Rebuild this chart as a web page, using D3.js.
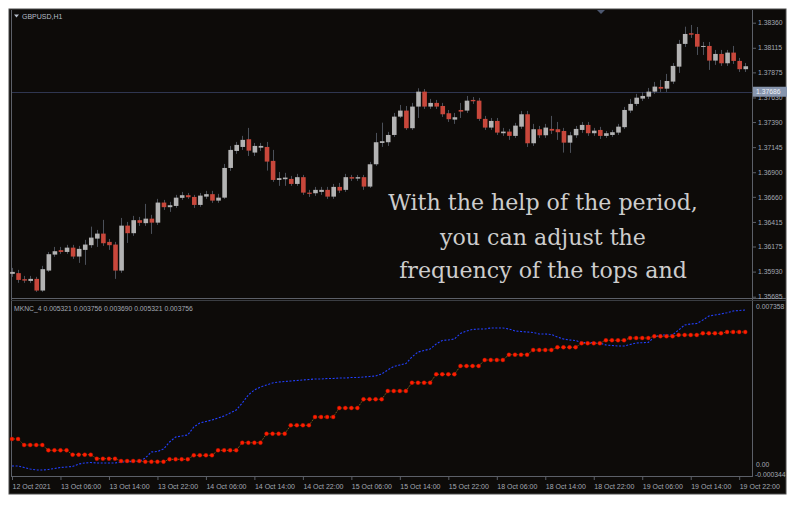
<!DOCTYPE html>
<html><head><meta charset="utf-8">
<script src="https://cdn.jsdelivr.net/npm/d3@7"></script>
<style>html,body{margin:0;padding:0;background:#fff;}svg{display:block;}</style>
</head><body>
<svg id="c" width="802" height="506"></svg>
<script>
// ---------- DATA ----------
const symbolTitle = "GBPUSD,H1";
const indicatorTitle = "MKNC_4 0.005321 0.003756 0.003690 0.005321 0.003756";
const bidPrice = 1.37686;

const open = [1.35908,1.35915,1.35856,1.35839,1.35859,1.35745,1.35940,1.36096,1.36139,1.36122,
1.36164,1.36077,1.36142,1.36188,1.36252,1.36301,1.36220,1.36194,1.35940,1.36379,
1.36305,1.36432,1.36403,1.36447,1.36408,1.36604,1.36559,1.36571,1.36650,1.36676,
1.36659,1.36581,1.36662,1.36686,1.36623,1.36652,1.36942,1.37108,1.37147,1.37222,
1.37092,1.37140,1.37147,1.37011,1.36825,1.36832,1.36835,1.36786,1.36852,1.36701,
1.36695,1.36708,1.36728,1.36662,1.36757,1.36728,1.36852,1.36838,1.36852,1.36760,
1.36978,1.37186,1.37193,1.37264,1.37443,1.37502,1.37330,1.37541,1.37687,1.37541,
1.37577,1.37547,1.37476,1.37414,1.37508,1.37502,1.37606,1.37599,1.37421,1.37336,
1.37401,1.37281,1.37297,1.37255,1.37345,1.37466,1.37183,1.37320,1.37261,1.37323,
1.37320,1.37303,1.37189,1.37261,1.37313,1.37362,1.37281,1.37313,1.37255,1.37264,
1.37287,1.37340,1.37502,1.37567,1.37619,1.37638,1.37687,1.37733,1.37716,1.37785,
1.37931,1.38153,1.38257,1.38250,1.38126,1.38133,1.37990,1.38055,1.37964,1.38068,
1.37987,1.37906];
const high = [1.35966,1.35947,1.35888,1.35888,1.35879,1.35986,1.36122,1.36171,1.36171,1.36191,
1.36191,1.36181,1.36240,1.36369,1.36337,1.36435,1.36249,1.36220,1.36454,1.36415,
1.36474,1.36464,1.36591,1.36484,1.36640,1.36630,1.36611,1.36679,1.36708,1.36698,
1.36679,1.36698,1.36718,1.36718,1.36689,1.36981,1.37157,1.37196,1.37255,1.37333,
1.37186,1.37186,1.37196,1.37118,1.36903,1.36894,1.36864,1.36884,1.36874,1.36728,
1.36757,1.36757,1.36757,1.36786,1.36796,1.36884,1.36874,1.36874,1.36874,1.37001,
1.37284,1.37384,1.37294,1.37479,1.37557,1.37547,1.37577,1.37720,1.37713,1.37616,
1.37606,1.37577,1.37508,1.37479,1.37577,1.37645,1.37635,1.37626,1.37450,1.37430,
1.37430,1.37333,1.37323,1.37382,1.37499,1.37499,1.37372,1.37352,1.37372,1.37450,
1.37391,1.37333,1.37294,1.37352,1.37391,1.37391,1.37333,1.37343,1.37303,1.37313,
1.37372,1.37538,1.37616,1.37665,1.37684,1.37723,1.37782,1.37801,1.37860,1.37967,
1.38192,1.38321,1.38338,1.38318,1.38172,1.38172,1.38094,1.38094,1.38094,1.38133,
1.38016,1.37967];
const low = [1.35879,1.35820,1.35820,1.35820,1.35732,1.35732,1.35927,1.36074,1.36103,1.36103,
1.36054,1.36015,1.35996,1.36162,1.36171,1.36181,1.36142,1.35859,1.35918,1.36210,
1.36279,1.36376,1.36376,1.36298,1.36386,1.36532,1.36513,1.36552,1.36630,1.36640,
1.36552,1.36562,1.36640,1.36601,1.36601,1.36640,1.36913,1.37079,1.37118,1.37059,
1.37059,1.37108,1.36916,1.36806,1.36767,1.36767,1.36767,1.36767,1.36679,1.36659,
1.36669,1.36679,1.36640,1.36640,1.36698,1.36708,1.36815,1.36815,1.36728,1.36747,
1.36962,1.37147,1.37157,1.37245,1.37430,1.37313,1.37313,1.37430,1.37518,1.37518,
1.37518,1.37440,1.37391,1.37372,1.37430,1.37479,1.37567,1.37401,1.37313,1.37313,
1.37264,1.37255,1.37216,1.37235,1.37323,1.37147,1.37157,1.37235,1.37235,1.37274,
1.37216,1.37092,1.37089,1.37235,1.37284,1.37255,1.37255,1.37225,1.37235,1.37245,
1.37264,1.37323,1.37479,1.37547,1.37596,1.37616,1.37665,1.37684,1.37684,1.37762,
1.37870,1.38123,1.38211,1.38045,1.38045,1.37899,1.37948,1.37938,1.37938,1.37957,
1.37879,1.37879];
const close = [1.35927,1.35849,1.35842,1.35859,1.35745,1.35954,1.36100,1.36129,1.36122,1.36164,
1.36077,1.36152,1.36194,1.36262,1.36301,1.36207,1.36188,1.35940,1.36379,1.36305,
1.36432,1.36406,1.36447,1.36408,1.36604,1.36559,1.36578,1.36652,1.36676,1.36656,
1.36581,1.36672,1.36686,1.36623,1.36652,1.36942,1.37118,1.37167,1.37216,1.37111,
1.37157,1.37157,1.37004,1.36825,1.36842,1.36848,1.36786,1.36852,1.36701,1.36689,
1.36728,1.36728,1.36662,1.36757,1.36721,1.36852,1.36838,1.36852,1.36760,1.36978,
1.37193,1.37203,1.37264,1.37443,1.37502,1.37330,1.37541,1.37687,1.37541,1.37577,
1.37541,1.37466,1.37418,1.37437,1.37492,1.37599,1.37593,1.37421,1.37336,1.37401,
1.37287,1.37297,1.37255,1.37355,1.37466,1.37183,1.37320,1.37261,1.37336,1.37306,
1.37291,1.37189,1.37261,1.37323,1.37362,1.37281,1.37306,1.37255,1.37281,1.37291,
1.37345,1.37508,1.37567,1.37628,1.37645,1.37687,1.37736,1.37716,1.37791,1.37938,
1.38153,1.38250,1.38243,1.38126,1.38133,1.37990,1.38055,1.37964,1.38068,1.37987,
1.37906,1.37935];

const blueLine = [0.000096,0.000096,0.000030,-0.000036,-0.000080,-0.000080,-0.000058,-0.000014,0.000030,0.000052,
0.000074,0.000184,0.000228,0.000250,0.000228,0.000228,0.000228,0.000228,0.000272,0.000272,
0.000294,0.000294,0.000448,0.000712,0.000734,0.000845,0.001153,0.001373,0.001417,0.001461,
0.001813,0.001989,0.002055,0.002121,0.002209,0.002297,0.002429,0.002561,0.002869,0.003221,
0.003441,0.003573,0.003661,0.003749,0.003793,0.003815,0.003837,0.003859,0.003881,0.003903,
0.003925,0.003925,0.003947,0.003947,0.003969,0.003969,0.003991,0.003991,0.004013,0.004035,
0.004057,0.004145,0.004321,0.004475,0.004541,0.004607,0.004893,0.005113,0.005180,0.005246,
0.005466,0.005620,0.005642,0.005686,0.005928,0.006038,0.006104,0.006126,0.006126,0.006170,
0.006170,0.006170,0.006126,0.006038,0.006016,0.005994,0.005972,0.005906,0.005906,0.005884,
0.005774,0.005686,0.005642,0.005620,0.005532,0.005532,0.005523,0.005510,0.005422,0.005400,
0.005378,0.005378,0.005444,0.005510,0.005523,0.005532,0.005774,0.005862,0.005862,0.005862,
0.006082,0.006302,0.006346,0.006368,0.006522,0.006698,0.006742,0.006786,0.006843,0.006918,
0.006940,0.006962];

const redLine = [0.001285,0.001285,
0.001021,0.001021,0.001021,0.001021, 0.000787,0.000787,0.000787,0.000787,
0.000594,0.000594,0.000594,0.000594, 0.000418,0.000418,0.000418,0.000418,
0.000316,0.000316,0.000316,0.000316, 0.000286,0.000286,0.000286,0.000286,
0.000391,0.000391,0.000391,0.000391, 0.000567,0.000567,0.000567,0.000567,
0.000787,0.000787,0.000787,0.000787, 0.001122,0.001122,0.001122,0.001122,
0.001518,0.001518,0.001518,0.001518, 0.001888,0.001888,0.001888,0.001888,
0.002253,0.002253,0.002253,0.002253, 0.002649,0.002649,0.002649,0.002649,
0.003032,0.003032,0.003032,0.003032, 0.003397,0.003397,0.003397,0.003397,
0.003762,0.003762,0.003762,0.003762, 0.004132,0.004132,0.004132,0.004132,
0.004497,0.004497,0.004497,0.004497, 0.004761,0.004761,0.004761,0.004761,
0.004995,0.004995,0.004995,0.004995, 0.005202,0.005202,0.005202,0.005202,
0.005320,0.005320,0.005320,0.005320, 0.005496,0.005496,0.005496,0.005496,
0.005628,0.005628,0.005628,0.005628, 0.005730,0.005730,0.005730,0.005730,
0.005804,0.005804,0.005804,0.005804, 0.005862,0.005862,0.005862,0.005862,
0.005936,0.005936,0.005936,0.005936, 0.005994,0.005994,0.005994,0.005994];

const priceTicks = [1.38360,1.38115,1.37875,1.37630,1.37390,1.37145,1.36900,1.36660,1.36415,1.36175,1.35930,1.35685];
const indMax = 0.007358, indMin = -0.000344;
const indTicks = [0.007358, 0.00, -0.000344];
const indTickLabels = ["0.007358", "0.00", "-0.000344"];
const timeLabelIdx = [0,8,16,24,32,40,48,56,64,72,80,88,96,104,112,120];
const timeLabels = ["12 Oct 2021","13 Oct 06:00","13 Oct 14:00","13 Oct 22:00","14 Oct 06:00","14 Oct 14:00","14 Oct 22:00","15 Oct 06:00",
"15 Oct 14:00","15 Oct 22:00","18 Oct 06:00","18 Oct 14:00","18 Oct 22:00","19 Oct 06:00","19 Oct 14:00","19 Oct 22:00"];
const watermark = ["With the help of the period,", "you can adjust the", "frequency of the tops and"];

// ---------- LAYOUT ----------
const svg = d3.select("#c");
const L = 11, R = 752, T1 = 10, B1 = 298, T2 = 301, B2 = 476;
const bg = "#0d0b09", frame = "#5c6068", txt = "#a3a9b3", font = "Liberation Sans, Arial, sans-serif";

svg.append("rect").attr("x",9).attr("y",9).attr("width",777).attr("height",485)
  .attr("fill",bg).attr("stroke","#4a4a4a").attr("stroke-width",1);

const n = open.length;
const x = d3.scaleLinear().domain([0, n-1]).range([12, 12 + 6.06*(n-1)]);
const y = d3.scaleLinear().domain([1.35685, 1.38360]).range([296.7, 22.7]);
const y2 = d3.scaleLinear().domain([indMin, indMax]).range([B2, T2]);

// frames
const fr = svg.append("g").attr("stroke",frame).attr("stroke-width",1).attr("fill","none");
fr.append("path").attr("d",`M${L+0.5},${T1}V${B2+0.5}`);
fr.append("path").attr("d",`M${R+0.5},${T1}V${B2+0.5}`);
fr.append("path").attr("d",`M${L},${B1+0.5}H786`);
fr.append("path").attr("d",`M${L},${T2-0.5}H786`).attr("stroke","#3a3d42");
fr.append("path").attr("d",`M${L},${B2+0.5}H${R+1}`);

// bid line
svg.append("line").attr("x1",L+1).attr("x2",R).attr("y1",Math.round(y(bidPrice))+0.5).attr("y2",Math.round(y(bidPrice))+0.5)
  .attr("stroke","#2f3650").attr("stroke-width",1);

// watermark
const wm = svg.append("g").attr("fill","#cdcdcd").attr("font-family","DejaVu Serif, serif").attr("text-anchor","middle");
const wmY = [y(1.36530), y(1.36186), y(1.35865)];
const t0 = wm.append("text").attr("x",543).attr("y",0).attr("font-size",22).text(watermark[0]);
const w0 = t0.node().getComputedTextLength();
const fs = 22 * 310 / w0;
t0.remove();
watermark.forEach((s,i)=>{
  wm.append("text").attr("x",543).attr("y",wmY[i]).attr("font-size",fs).text(s);
});

// candles
const cg = svg.append("g");
const bw = 4.6;
for (let i=0;i<n;i++){
  const cx = Math.round(x(i)) + 0.5;
  cg.append("line").attr("x1",cx).attr("x2",cx).attr("y1",y(high[i])).attr("y2",y(low[i]))
    .attr("stroke","#4b5059").attr("stroke-width",1);
}
for (let i=0;i<n;i++){
  const up = close[i] >= open[i];
  const top = y(Math.max(open[i],close[i])), bot = y(Math.min(open[i],close[i]));
  cg.append("rect").attr("x",x(i)-bw/2+0.5).attr("y",top).attr("width",bw).attr("height",Math.max(1,bot-top))
    .attr("fill", up ? "#b3b3b3" : "#c8473b");
}

// price axis
const pa = svg.append("g").attr("transform",`translate(${R+1},0)`)
  .call(d3.axisRight(y).tickValues(priceTicks).tickFormat(d3.format(".5f")).tickSize(3).tickPadding(2));
pa.select(".domain").remove();
pa.selectAll("line").attr("stroke",frame);
pa.selectAll("text").attr("fill",txt).attr("font-size",6.8).attr("font-family",font);

// bid label
const by = y(bidPrice);
svg.append("rect").attr("x",R+1).attr("y",by-5).attr("width",34).attr("height",10).attr("fill","#8795ad");
svg.append("text").attr("x",R+4).attr("y",by+2.5).attr("fill","#eef1f6").attr("font-size",6.8).attr("font-family",font).text(bidPrice.toFixed(5));

// title
svg.append("path").attr("d","M14,14.5h5l-2.5,3z").attr("fill","#b8c0cc");
svg.append("text").attr("x",22).attr("y",18.5).attr("fill","#b5bcc8").attr("font-size",7).attr("font-family",font).text(symbolTitle);
// shift marker
svg.append("path").attr("d","M597,10h8l-4,4z").attr("fill","#4d5870");

// indicator panel
svg.append("text").attr("x",14).attr("y",311).attr("fill",txt).attr("font-size",6.8).attr("font-family",font).text(indicatorTitle);

const lineGen = d3.line().x((d,i)=>x(i)).y(d=>y2(d));
svg.append("path").datum(blueLine).attr("d",lineGen).attr("fill","none")
  .attr("stroke","#2340ff").attr("stroke-width",1.1).attr("stroke-dasharray","2,1.6");
svg.append("path").datum(redLine).attr("d",lineGen).attr("fill","none")
  .attr("stroke","#b5841f").attr("stroke-width",0.8).attr("stroke-dasharray","1,1");
svg.append("g").selectAll("circle").data(redLine).join("circle")
  .attr("cx",(d,i)=>x(i)).attr("cy",d=>y2(d)).attr("r",2).attr("fill","#ff1e00").attr("stroke","#b01000").attr("stroke-width",0.4);

// indicator axis labels
svg.append("g").selectAll("text").data(indTicks).join("text")
  .attr("x",(d,i)=> i===2 ? R+3 : R+4)
  .attr("y",(d,i)=> i===0 ? T2+8 : (i===1 ? y2(d)-1 : B2+0.5))
  .attr("fill",txt).attr("font-size",6.8).attr("font-family",font)
  .text((d,i)=>indTickLabels[i]);

// time axis
const ta = svg.append("g").attr("transform",`translate(0,${B2+1})`)
  .call(d3.axisBottom(x).tickValues(timeLabelIdx).tickFormat((d,i)=>timeLabels[i]).tickSize(3).tickPadding(4));
ta.select(".domain").remove();
ta.selectAll("line").attr("stroke",frame);
ta.selectAll("text").attr("fill",txt).attr("font-size",7).attr("font-family",font).attr("text-anchor","start").attr("dx",0);
</script>
</body></html>
